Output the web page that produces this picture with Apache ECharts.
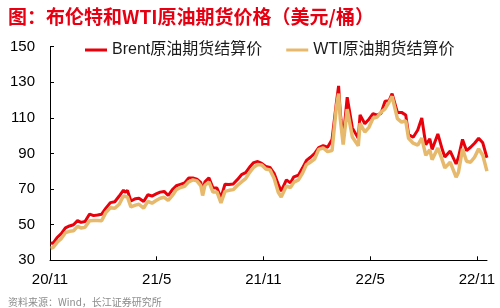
<!DOCTYPE html>
<html>
	<head>
		<meta charset="utf-8">
		<title>布伦特和WTI原油期货价格</title>
		<script src="https://cdn.jsdelivr.net/npm/echarts@6/dist/echarts.min.js"></script>
		<style>
			html, body { margin: 0; padding: 0; background: #fff; }
			#main { width: 500px; height: 308px; }
		</style>
	</head>
	<body>
		<div id="main"></div>
		<script>
			// 数据（周度，读自原图）
			var dates = ['2020-11-02','2020-11-06','2020-11-13','2020-11-20','2020-11-27','2020-12-04','2020-12-11','2020-12-18','2020-12-24','2020-12-31',
				'2021-01-08','2021-01-15','2021-01-22','2021-01-29','2021-02-05','2021-02-12','2021-02-19','2021-02-26','2021-03-05','2021-03-08',
				'2021-03-12','2021-03-18','2021-03-26','2021-04-01','2021-04-09','2021-04-16','2021-04-23','2021-04-30','2021-05-07','2021-05-14',
				'2021-05-21','2021-05-28','2021-06-04','2021-06-11','2021-06-18','2021-06-25','2021-07-02','2021-07-09','2021-07-16','2021-07-19',
				'2021-07-23','2021-07-30','2021-08-06','2021-08-13','2021-08-20','2021-08-27','2021-09-03','2021-09-10','2021-09-17','2021-09-24',
				'2021-10-01','2021-10-08','2021-10-15','2021-10-22','2021-10-29','2021-11-05','2021-11-12','2021-11-19','2021-11-26','2021-12-01',
				'2021-12-10','2021-12-17','2021-12-23','2021-12-31','2022-01-07','2022-01-14','2022-01-21','2022-01-28','2022-02-04','2022-02-11',
				'2022-02-18','2022-02-25','2022-03-04','2022-03-08','2022-03-11','2022-03-16','2022-03-23','2022-03-25','2022-04-01','2022-04-11',
				'2022-04-14','2022-04-22','2022-04-29','2022-05-06','2022-05-13','2022-05-20','2022-05-27','2022-06-03','2022-06-08','2022-06-17',
				'2022-06-24','2022-07-01','2022-07-06','2022-07-14','2022-07-22','2022-07-29','2022-08-05','2022-08-12','2022-08-16','2022-08-26',
				'2022-09-02','2022-09-07','2022-09-16','2022-09-26','2022-09-30','2022-10-07','2022-10-14','2022-10-21','2022-10-28','2022-11-04',
				'2022-11-11','2022-11-18'];
			var brent = [39.7,39.5,42.8,45.0,48.2,49.3,50.0,52.3,51.3,51.8,
				56.0,55.1,55.4,55.9,59.3,62.4,62.9,66.1,69.4,68.2,
				69.2,63.3,64.6,64.9,63.0,66.8,66.1,67.3,68.3,68.7,
				66.4,69.6,71.9,72.7,73.5,76.2,76.2,75.6,73.6,68.6,
				74.1,76.3,70.7,70.6,65.2,72.7,72.6,72.9,75.3,78.1,
				79.3,82.4,84.9,85.5,84.4,82.7,82.2,78.9,72.7,68.9,
				75.2,73.5,76.9,77.8,81.8,86.1,87.9,90.0,93.3,94.4,
				93.5,97.9,118.1,128.0,112.7,98.0,121.6,120.7,104.4,98.5,
				111.7,106.7,109.3,112.4,111.6,112.6,119.4,119.7,123.6,113.1,
				113.1,111.6,100.7,99.1,103.2,110.0,94.9,98.2,92.3,101.0,
				93.0,88.0,91.4,84.1,88.0,97.9,91.6,93.5,95.8,98.6,
				96.0,87.6];
			var wti = [36.8,37.1,40.1,42.2,45.5,46.3,46.6,49.1,48.2,48.5,
				52.2,52.4,52.3,52.2,56.9,59.5,59.2,61.5,66.1,65.1,
				65.6,60.0,61.0,61.5,59.3,63.1,62.1,63.6,64.9,65.4,
				63.6,66.3,69.6,70.9,71.6,74.1,75.2,74.6,71.8,66.4,
				72.1,74.0,68.3,68.4,62.3,68.7,69.3,69.7,72.0,74.0,
				75.9,79.4,82.3,83.8,83.6,81.3,80.8,76.1,68.2,65.6,
				71.7,70.9,73.8,75.2,78.9,83.8,85.1,86.8,92.3,93.1,
				91.1,91.6,115.7,123.7,109.3,95.0,114.9,113.9,99.3,94.3,
				107.0,102.1,104.7,109.8,110.5,113.2,115.1,118.9,122.1,109.6,
				107.6,108.4,98.5,95.8,94.7,98.6,89.0,92.1,86.5,93.1,
				86.9,81.9,85.1,76.7,79.5,92.6,85.6,85.1,87.9,92.6,
				89.0,80.1];
			var tickLabels = ['20/11', '21/5', '21/11', '22/5', '22/11'];

			// 日期 -> 自2020年11月起的月数
			function toMonth(s) {
				var p = s.split('-').map(Number);
				var dim = new Date(p[0], p[1], 0).getDate();
				return (p[0] - 2020) * 12 + (p[1] - 11) + (p[2] - 1) / dim;
			}
			function pairs(vals) {
				return dates.map(function (d, i) { return [toMonth(d), vals[i]]; });
			}

			var myChart = echarts.init(document.getElementById('main'));
			var option = {
				animation: false,
				backgroundColor: '#fff',
				title: [{
					text: '图：布伦特和WTI原油期货价格（美元/桶）',
					left: 3,
					top: 2,
					textStyle: { color: '#E60012', fontSize: 19, fontWeight: 'bold', fontFamily: 'Noto Sans CJK SC' }
				}, {
					text: '资料来源：Wind，长江证券研究所',
					left: 3,
					top: 292,
					textStyle: { color: '#8c8c8c', fontSize: 10, fontWeight: 'normal', fontFamily: 'Noto Sans CJK SC' }
				}],
				legend: {
					left: 80,
					top: 37,
					itemWidth: 22,
					itemHeight: 3,
					itemGap: 24,
					icon: 'rect',
					textStyle: { fontSize: 16, color: '#1a1a1a', fontFamily: 'Liberation Sans, Noto Sans CJK SC' },
					data: ['Brent原油期货结算价', 'WTI原油期货结算价']
				},
				grid: { left: 50, right: 13, top: 46.7, bottom: 47.7 },
				xAxis: {
					type: 'value',
					min: 0,
					max: 24.57,
					interval: 6,
					splitLine: { show: false },
					axisLine: { lineStyle: { color: '#000', width: 1 } },
					axisTick: { inside: true, length: 4, lineStyle: { color: '#000' }, customValues: [0, 6, 12, 18, 24] },
					axisLabel: {
						color: '#000', fontSize: 15, margin: 12, fontFamily: 'Liberation Sans',
						customValues: [0, 6, 12, 18, 24],
						formatter: function (v) { return tickLabels[Math.round(v / 6)]; }
					}
				},
				yAxis: {
					type: 'value',
					min: 30,
					max: 150,
					interval: 20,
					splitLine: { show: false },
					axisLine: { show: true, lineStyle: { color: '#000', width: 1 } },
					axisTick: { show: true, inside: true, length: 4, lineStyle: { color: '#000' } },
					axisLabel: { color: '#000', fontSize: 15, margin: 15, fontFamily: 'Liberation Sans' }
				},
				series: [{
					name: 'Brent原油期货结算价',
					type: 'line',
					showSymbol: false,
					data: pairs(brent),
					itemStyle: { color: '#E8000B' },
					lineStyle: { color: '#E8000B', width: 3 }
				}, {
					name: 'WTI原油期货结算价',
					type: 'line',
					showSymbol: false,
					data: pairs(wti),
					itemStyle: { color: '#E6B96C' },
					lineStyle: { color: '#E6B96C', width: 3.5 }
				}]
			};
			myChart.setOption(option);
		</script>
	</body>
</html>
